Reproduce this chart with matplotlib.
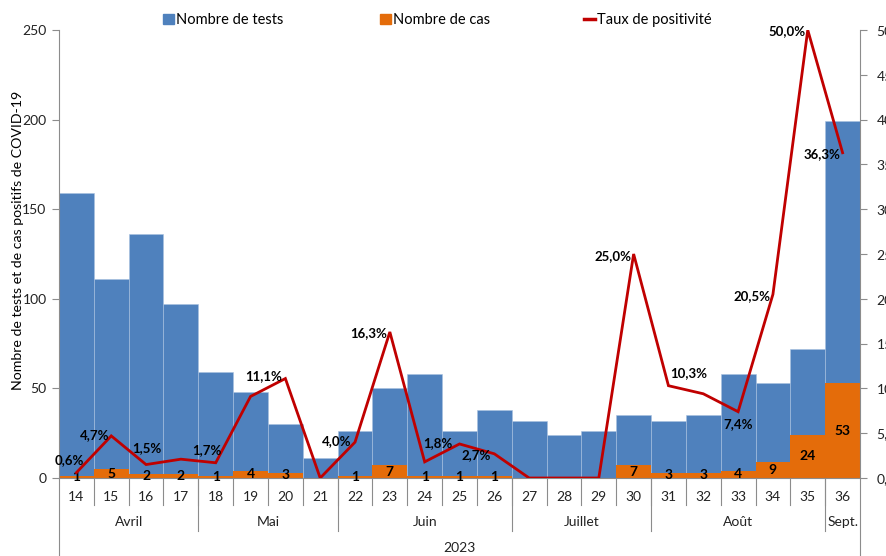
import matplotlib
matplotlib.use('Agg')
import matplotlib.pyplot as plt
from matplotlib.patches import Patch
from matplotlib.lines import Line2D

plt.rcParams['font.family'] = ['Lato', 'DejaVu Sans']

# data
weeks = [14, 15, 16, 17, 18, 19, 20, 21, 22, 23, 24, 25, 26, 27, 28, 29, 30, 31, 32, 33, 34, 35, 36]
tests = [159, 111, 136, 97, 59, 48, 30, 11, 26, 50, 58, 26, 38, 32, 24, 26, 35, 32, 35, 58, 53, 72, 199]
cases = [1, 5, 2, 2, 1, 4, 3, 0, 1, 7, 1, 1, 1, 0, 0, 0, 7, 3, 3, 4, 9, 24, 53]
rates = [0.6, 4.7, 1.5, 2.1, 1.7, 9.1, 11.1, 0.0, 4.0, 16.3, 1.8, 3.8, 2.7, 0.0, 0.0, 0.0,
         25.0, 10.3, 9.4, 7.4, 20.5, 50.0, 36.3]
labelled_weeks = [14, 15, 16, 18, 20, 22, 23, 24, 26, 30, 31, 33, 34, 35, 36]
months = ['Avril', 'Mai', 'Juin', 'Juillet', 'Août', 'Sept.']
month_nweeks = [4, 4, 5, 4, 5, 1]
year = '2023'

# where each % label sits relative to its point (pixels)
pct_offsets = {14: (-7, 13), 15: (-17, 1), 16: (1, 16), 18: (-9, 13), 20: (-22, 2),
               22: (-18, 1), 23: (-21, -1), 24: (13, 19), 26: (-18, -1), 30: (-21, -2),
               31: (20, 13), 33: (0, -12), 34: (-21, -2), 35: (-21, -1), 36: (-21, -1)}

blue = '#4F81BD'
orange = '#E46C0A'
red = '#C00000'
grey = '#8C8C8C'
W, H = 886, 556

fig = plt.figure(figsize=(W / 100, H / 100), dpi=100)
ax = fig.add_axes([59 / W, 78 / H, 801 / W, 448 / H])
x = list(range(len(weeks)))

ax.bar(x, tests, width=1.0, color=blue, edgecolor='#A9C1E0', linewidth=0.4)
ax.bar(x, cases, width=1.0, color=orange)
for i, c in zip(x, cases):
    if c > 0:
        ax.text(i, c / 2, str(c), ha='center', va='center', fontsize=10,
                fontweight='bold', color='black', zorder=5)

ax.set_xlim(-0.5, len(weeks) - 0.5)
ax.set_ylim(0, 250)
ax.set_yticks(range(0, 251, 50))
ax.set_xticks([])
ax.tick_params(axis='y', length=5, color=grey, labelsize=10, labelcolor='#222222', pad=4)
for s in ['top', 'right']:
    ax.spines[s].set_visible(False)
for s in ['left', 'bottom']:
    ax.spines[s].set_color(grey)
ax.set_ylabel('Nombre de tests et de cas positifs de COVID-19', fontsize=10.2, color='black')
ax.yaxis.set_label_coords(-35 / 801, (478 - 240) / 448)

ax2 = ax.twinx()
ax2.plot(x, rates, color=red, lw=2.0, solid_joinstyle='miter')
ax2.set_ylim(0, 50)
ax2.set_yticks(range(0, 51, 5))
ax2.set_yticklabels([f'{v:.1f}'.replace('.', ',') for v in range(0, 51, 5)])
ax2.tick_params(axis='y', length=5, color=grey, labelsize=10, labelcolor='#222222', pad=7)
for s in ['top', 'left', 'bottom']:
    ax2.spines[s].set_visible(False)
ax2.spines['right'].set_color(grey)
for i, w in enumerate(weeks):
    if w in labelled_weeks:
        dx, dy = pct_offsets[w]
        ax2.annotate(f'{rates[i]:.1f}%'.replace('.', ','), (i, rates[i]), xytext=(dx, dy),
                     textcoords='offset pixels', ha='center', va='center',
                     fontsize=9.5, fontweight='bold', color='black')

# category axis below the plot
tr = ax.get_xaxis_transform()
def ay(py):
    return (478 - py) / 448

for i, w in enumerate(weeks):
    ax.text(i, ay(497), str(w), transform=tr, ha='center', va='center', fontsize=10, color='#222222')
for b in range(1, len(weeks)):
    ax.add_line(Line2D([b - 0.5, b - 0.5], [0, ay(505)], transform=tr, color=grey, lw=0.8, clip_on=False))
start = 0
for m, n in zip(months, month_nweeks):
    ax.text(start + n / 2 - 0.5, ay(522), m, transform=tr, ha='center', va='center',
            fontsize=10, color='#222222')
    start += n
    if start < len(weeks):
        ax.add_line(Line2D([start - 0.5, start - 0.5], [0, ay(531)], transform=tr,
                           color=grey, lw=0.8, clip_on=False))
for edge in [-0.5, len(weeks) - 0.5]:
    ax.add_line(Line2D([edge, edge], [0, ay(560)], transform=tr, color=grey, lw=0.8, clip_on=False))
ax.text((len(weeks) - 1) / 2, ay(548), year, transform=tr, ha='center', va='center',
        fontsize=10, color='#222222')

# legend, one entry at a time
entries = [(Patch(color=blue), 'Nombre de tests', 163),
           (Patch(color=orange), 'Nombre de cas', 380),
           (Line2D([], [], color=red, lw=2.5), 'Taux de positivité', 584)]
for h, lab, px in entries:
    fig.legend(handles=[h], labels=[lab], loc='center left', bbox_to_anchor=(px / W, 1 - 20 / H),
               frameon=False, fontsize=10.5, handlelength=0.75, handleheight=0.75,
               handletextpad=0.15, borderpad=0, borderaxespad=0)

fig.savefig('out.png', dpi=100)
